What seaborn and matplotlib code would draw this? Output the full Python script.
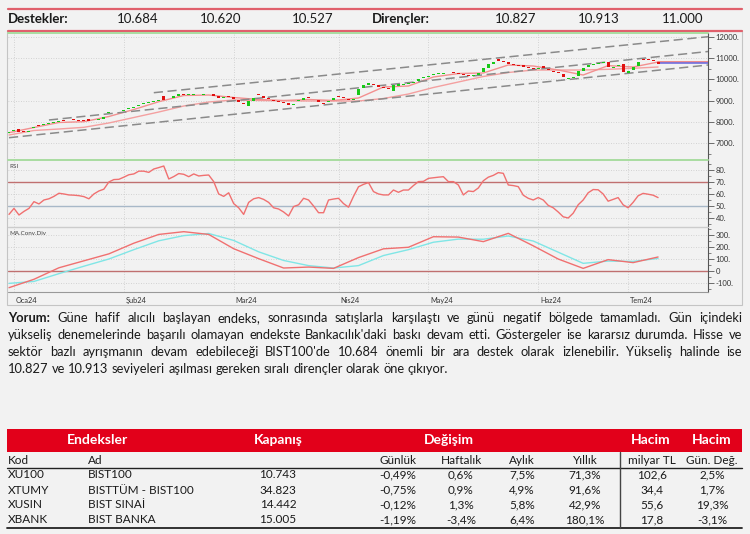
import matplotlib
matplotlib.use('Agg')
import matplotlib.pyplot as plt
import matplotlib.transforms as mtransforms
from matplotlib.lines import Line2D
from matplotlib.patches import Rectangle
from matplotlib.ticker import FuncFormatter, MultipleLocator
import seaborn as sns
import numpy as np
import pandas as pd

'''
Dados lidos do grafico (BIST100 diario, Oca24 - Tem24)
'''

support_levels = ['10.684', '10.620', '10.527']
resistance_levels = ['10.827', '10.913', '11.000']

# candles (indice = dia de negociacao)
close_px = [
    7533, 7613, 7500, 7533, 7580, 7769, 7816, 7882, 7929, 7990,
    8038, 8038, 8052, 8085, 8038, 8038, 8038, 8052, 8132, 8240,
    8450, 8476, 8476, 8556, 8637, 8712, 8792, 8873, 8920, 8967,
    9028, 9020, 9061, 9217, 9297, 9280, 9297, 9300, 9290, 9300,
    9325, 9231, 9137, 9170, 9184, 9061, 8920, 8825, 9000, 9108,
    9264, 9137, 9075, 8981, 8948, 8873, 8792, 8854, 9028, 9137,
    9137, 9184, 8920, 8840, 8981, 9108, 9184, 9108, 9028, 9075,
    9570, 9736, 9816, 9736, 9656, 9580, 9547, 9720, 9760, 9780,
    9816, 9891, 10005, 10099, 10175, 10255, 10288, 10316, 10335, 10288,
    10255, 10208, 10175, 10208, 10288, 10560, 10720, 10835, 10882, 10807,
    10726, 10679, 10646, 10599, 10524, 10476, 10524, 10524, 10443, 10363,
    10288, 10127, 10052, 10127, 10396, 10524, 10679, 10712, 10759, 10807,
    10599, 10599, 10679, 10350, 10420, 10599, 10807, 10915, 10901, 10868,
    10743]
open_px = [
    7480, 7560, 7680, 7560, 7540, 7720, 7860, 7840, 7890, 7950,
    8000, 8070, 8030, 8110, 8070, 8060, 8110, 8030, 8080, 8150,
    8400, 8440, 8450, 8500, 8590, 8660, 8750, 8830, 8880, 8930,
    8990, 9200, 9090, 9110, 9240, 9300, 9270, 9280, 9310, 9280,
    9290, 9300, 9200, 9120, 9220, 9150, 9010, 8900, 8760, 8990,
    9300, 9220, 9120, 9030, 8990, 8920, 8880, 8790, 8990, 9050,
    9190, 9150, 9040, 8900, 8940, 9050, 9230, 9160, 9080, 9020,
    9270, 9600, 9750, 9800, 9720, 9640, 9590, 9440, 9700, 9740,
    9780, 9840, 9930, 10050, 10110, 10190, 10250, 10270, 10370, 10330,
    10290, 10260, 10220, 10180, 10230, 10330, 10560, 10740, 10950, 10880,
    10800, 10720, 10690, 10660, 10580, 10520, 10480, 10620, 10480, 10420,
    10340, 10250, 10000, 10060, 10140, 10420, 10600, 10680, 10720, 10770,
    10800, 10540, 10620, 10720, 10300, 10440, 10650, 10960, 10950, 10920,
    10820]

# medias moveis (a cada 5 dias)
ma_days = list(range(0, 131, 5))
ma_fast = [7486, 7731, 7967, 8005, 8250, 8580, 8948, 9240, 9264, 9146, 9052, 9005, 9052, 9005,
           9123, 9642, 9689, 10113, 10278, 10302, 10680, 10632, 10443, 10207, 10650, 10585, 10820]
ma_slow = [7377, 7590, 7660, 7740, 7944, 8203, 8462, 8745, 8934, 9028, 9005, 8990, 8981, 8981,
           8981, 9099, 9311, 9618, 9877, 10137, 10325, 10443, 10443, 10443, 10476, 10524, 10585]

# canal de tendencia (linhas tracejadas)
channel_days = [[29, 140], [8, 140], [0, 140]]
channel_vals = [[9373, 12014], [8085, 11316], [7250, 10679]]
last_levels = [10806, 10759]

# RSI diario
rsi = [43, 48, 42.5, 45.5, 48, 53.6, 51.7, 55, 56, 58,
       60.6, 60, 59.2, 59, 58.6, 57.8, 56, 60, 62.5, 64,
       70, 72, 72.2, 74, 76, 76.7, 79, 79, 78, 80.8,
       82, 83.3, 72.5, 74.5, 77, 76.4, 74.4, 76.7, 75, 75.5,
       75.8, 70.3, 60, 58, 61, 52, 48.5, 43, 53, 56,
       57, 55.5, 53, 48.5, 47.5, 45, 41.7, 49.5, 51, 56.4,
       55, 50, 44.4, 44.4, 55, 55.8, 56.4, 52, 49, 58,
       66, 68, 69.5, 62, 60, 59.2, 59.2, 63.3, 61.4, 63.3,
       63.3, 67, 70.3, 70.5, 73, 73.5, 74, 74.4, 70.3, 70.3,
       67.5, 59.2, 62.5, 62, 65, 71, 74, 75.5, 77.8, 77.2,
       67.5, 67, 66.1, 59, 56.4, 55, 57, 55, 50.5, 48.5,
       45, 41, 40, 44, 51, 55, 61, 63.7, 63.5, 60,
       54, 55.5, 57, 51, 48.5, 53, 58.5, 60.5, 59.8, 59,
       57]

# MACD e sinal (a cada 5 dias)
macd = [-139, -69, 27, 85, 143, 232, 305, 328, 305, 186, 103, 25, 33, 22,
        112, 185, 198, 286, 283, 245, 314, 210, 100, 22, 95, 70, 117]
macd_signal = [-103, -87, -22, 40, 100, 178, 252, 295, 313, 255, 160, 88, 45, 25,
               45, 129, 178, 240, 266, 265, 292, 250, 157, 64, 83, 80, 105]

month_idx = [1, 23, 45, 66, 84, 106, 124]
month_labels = ['Oca24', 'Şub24', 'Mar24', 'Nis24', 'May24', 'Haz24', 'Tem24']

comment_lines = [
    "Yorum: Güne hafif alıcılı başlayan endeks, sonrasında satışlarla karşılaştı ve günü negatif bölgede tamamladı. Gün içindeki",
    "yükseliş denemelerinde başarılı olamayan endekste Bankacılık'daki baskı devam etti. Göstergeler ise kararsız durumda. Hisse ve",
    "sektör bazlı ayrışmanın devam edebileceği BIST100'de 10.684 önemli bir ara destek olarak izlenebilir. Yükseliş halinde ise",
    "10.827 ve 10.913 seviyeleri aşılması gereken sıralı dirençler olarak öne çıkıyor.",
]

# tabela
tbl_code = ['XU100', 'XTUMY', 'XUSIN', 'XBANK']
tbl_name = ['BIST100', 'BISTTÜM - BIST100', 'BIST SINAİ', 'BIST BANKA']
tbl_close = ['10.743', '34.823', '14.442', '15.005']
tbl_daily = ['-0,49%', '-0,75%', '-0,12%', '-1,19%']
tbl_weekly = ['0,6%', '0,9%', '1,3%', '-3,4%']
tbl_monthly = ['7,5%', '4,9%', '5,8%', '6,4%']
tbl_yearly = ['71,3%', '91,6%', '42,9%', '180,1%']
tbl_volume = ['102,6', '34,4', '55,6', '17,8']
tbl_vol_chg = ['2,5%', '1,7%', '19,3%', '-3,1%']

'''
Figura
'''
W, H = 750, 534
BG = '#f2f2f2'
RED_LINE = '#e0606c'
sns.set_style('white', {'axes.facecolor': BG, 'figure.facecolor': BG})
plt.rcParams['font.family'] = ['Lato', 'DejaVu Sans']

fig = plt.figure(figsize=(W / 100, H / 100), dpi=100)
fig.patch.set_facecolor(BG)


def fx(x):
    return x / W


def fy(y):
    return 1 - y / H


def hline(x0, x1, y, color, lw):
    fig.add_artist(Line2D([fx(x0), fx(x1)], [fy(y), fy(y)], color=color, lw=lw,
                          transform=fig.transFigure))


def vline(x, y0, y1, color, lw):
    fig.add_artist(Line2D([fx(x), fx(x)], [fy(y0), fy(y1)], color=color, lw=lw,
                          transform=fig.transFigure))


# cabecalho suporte / resistencia
hline(8, 742, 8.5, RED_LINE, 1.6)
hline(8, 742, 30.5, RED_LINE, 1.6)
fig.text(fx(8), fy(19), 'Destekler:', fontsize=9.5, fontweight='bold', va='center', color='#1a1a1a')
for xpos, lev in zip([117, 200, 292], support_levels):
    fig.text(fx(xpos), fy(19), lev, fontsize=9.5, va='center', color='#1a1a1a')
fig.text(fx(372), fy(19), 'Dirençler:', fontsize=9.5, fontweight='bold', va='center', color='#1a1a1a')
for xpos, lev in zip([495, 578, 662], resistance_levels):
    fig.text(fx(xpos), fy(19), lev, fontsize=9.5, va='center', color='#1a1a1a')

# paineis
ax_p = fig.add_axes([fx(8), fy(160), 700 / W, 127 / H])
ax_r = fig.add_axes([fx(8), fy(227), 700 / W, 67 / H])
ax_m = fig.add_axes([fx(8), fy(292), 700 / W, 65 / H])


def setup_panel(ax, ylim, yticks, minor, fmt):
    ax.set_xlim(-0.2, 140)
    ax.set_ylim(*ylim)
    ax.set_facecolor(BG)
    for s in ['top', 'left', 'bottom']:
        ax.spines[s].set_visible(False)
    ax.spines['right'].set_color('#555555')
    ax.spines['right'].set_linewidth(0.8)
    ax.yaxis.tick_right()
    ax.set_yticks(yticks)
    ax.yaxis.set_minor_locator(MultipleLocator(minor))
    ax.yaxis.set_major_formatter(FuncFormatter(fmt))
    ax.tick_params(axis='y', which='major', direction='out', length=4, width=0.6,
                   colors='#555555', labelsize=5.5, pad=1.5, labelcolor='#333333')
    ax.tick_params(axis='y', which='minor', direction='out', length=2, width=0.5, colors='#555555')
    ax.set_xticks(month_idx)
    ax.tick_params(axis='x', length=0, labelbottom=False)
    ax.grid(True, which='major', color='#c8c8c8', linestyle=(0, (1, 2)), linewidth=0.6)
    ax.set_axisbelow(True)


def dotted(v, pos):
    return '0' if v == 0 else f'{int(v)}.'


setup_panel(ax_p, (6198, 12189), range(7000, 12001, 1000), 500, dotted)
setup_panel(ax_r, (32.5, 88.3), [40, 50, 60, 70, 80], 5, dotted)
setup_panel(ax_m, (-175, 367), [-100, 0, 100, 200, 300], 50, dotted)

# candles
days = np.arange(len(close_px))
o = np.array(open_px)
c = np.array(close_px)
body_low = np.minimum(o, c)
body_h = np.maximum(np.abs(c - o), 30)
colors = np.where(c >= o, '#18c818', '#e01010')
ax_p.bar(days, body_h, bottom=body_low, width=0.6, color=colors, linewidth=0, zorder=3)

sns.lineplot(x=ma_days, y=ma_slow, ax=ax_p, color='#f4a0a0', lw=1.0, zorder=2)
sns.lineplot(x=ma_days, y=ma_fast, ax=ax_p, color='#f29090', lw=1.0, zorder=2)
for dx, vals in zip(channel_days, channel_vals):
    ax_p.plot(dx, vals, color='#8a8a8a', lw=1.1, dashes=(6, 3), zorder=2)
ax_p.plot([days[-1], 140], [last_levels[0]] * 2, color='#f07878', lw=1.2, zorder=2)
ax_p.plot([days[-1], 140], [last_levels[1]] * 2, color='#7070e0', lw=1.2, zorder=2)

# RSI
ax_r.axhline(70, color='#c07070', lw=1.0, zorder=1)
ax_r.axhline(50, color='#a8b8c8', lw=1.0, zorder=1)
sns.lineplot(x=days, y=rsi, ax=ax_r, color='#f07070', lw=1.0, zorder=3)
ax_r.text(0.002, 0.9, 'RSI', transform=ax_r.transAxes, fontsize=4.5, color='#444444', va='center')

# MACD
ax_m.axhline(0, color='#c07070', lw=1.0, zorder=1)
sns.lineplot(x=ma_days, y=macd_signal, ax=ax_m, color='#80e6e6', lw=1.0, zorder=3)
sns.lineplot(x=ma_days, y=macd, ax=ax_m, color='#f07070', lw=1.0, zorder=4)
ax_m.text(0.002, 0.9, 'MA.Conv.Div', transform=ax_m.transAxes, fontsize=4.5, color='#444444', va='center')

for ax in (ax_p, ax_r, ax_m):
    ax.set_xlabel('')
    ax.set_ylabel('')

# eixo de meses
ax_m.tick_params(axis='x', direction='out', length=8, width=0.6, colors='#666666')
blend = mtransforms.blended_transform_factory(ax_m.transData, ax_m.transAxes)
for m, lab in zip(month_idx, month_labels):
    ax_m.text(m + 0.4, -0.125, lab, transform=blend, fontsize=5.3, color='#333333',
              ha='left', va='center')

# separadores do grafico
hline(8, 708, 33, '#a8dca0', 1.4)
hline(8, 708, 160, '#a8dca0', 1.4)
hline(8, 708, 227, '#cccccc', 1.0)
hline(8, 708, 292, '#999999', 0.8)
fig.add_artist(Rectangle((fx(7), fy(305)), 735 / W, 274 / H, fill=False, edgecolor='#c4c4c4',
                         lw=0.8, transform=fig.transFigure))

'''
Comentario justificado
'''
renderer = fig.canvas.get_renderer()


def text_w(s, size, weight):
    t = fig.text(0, 0, s, fontsize=size, fontweight=weight)
    w = t.get_window_extent(renderer=renderer).width
    t.remove()
    return w


tokens = []
for li, line in enumerate(comment_lines):
    words = line.split(' ')
    tokens.append([(w, 'bold' if (li == 0 and k == 0) else 'normal') for k, w in enumerate(words)])

left, right = 8, 742
para_size = 10.5
while True:
    widths = [[text_w(w, para_size, wt) for w, wt in line] for line in tokens]
    space_w = text_w('a a', para_size, 'normal') - text_w('aa', para_size, 'normal')
    natural = max(sum(ws) + space_w * (len(ws) - 1) for ws in widths)
    if natural <= 726 or para_size < 7:
        break
    para_size -= 0.25

line_y = [318, 335, 352, 369]
for li, (line, ws) in enumerate(zip(tokens, widths)):
    if li < len(tokens) - 1:
        gap = (right - left - sum(ws)) / (len(ws) - 1)
    else:
        gap = space_w
    x = left
    for (w, wt), wd in zip(line, ws):
        fig.text(fx(x), fy(line_y[li]), w, fontsize=para_size, fontweight=wt, va='center',
                 ha='left', color='#1a1a1a')
        x += wd + gap

'''
Tabela
'''
fig.add_artist(Rectangle((fx(7), fy(452)), 735 / W, 23.5 / H, facecolor='#e2001a',
                         edgecolor='none', transform=fig.transFigure))
for xc, lab in zip([97, 278, 449, 651, 712], ['Endeksler', 'Kapanış', 'Değişim', 'Hacim', 'Hacim']):
    fig.text(fx(xc), fy(440), lab, fontsize=10, fontweight='bold', color='white', ha='center', va='center')

fig.text(fx(8), fy(460), 'Kod', fontsize=8.5, va='center', color='#1a1a1a')
fig.text(fx(88), fy(460), 'Ad', fontsize=8.5, va='center', color='#1a1a1a')
sub_x = [398, 461, 522, 585, 652, 712]
for xc, lab in zip(sub_x, ['Günlük', 'Haftalık', 'Aylık', 'Yıllık', 'milyar TL', 'Gün. Değ.']):
    fig.text(fx(xc), fy(460), lab, fontsize=8.5, ha='center', va='center', color='#1a1a1a')
hline(7, 742, 467.7, '#222222', 1.0)
hline(7, 742, 528, '#222222', 1.3)
vline(620, 452, 528, '#444444', 1.0)

row_y = [475, 490, 505, 519.5]
for r in range(len(tbl_code)):
    y = fy(row_y[r])
    fig.text(fx(8), y, tbl_code[r], fontsize=8.5, va='center', color='#1a1a1a')
    fig.text(fx(88), y, tbl_name[r], fontsize=8.5, va='center', color='#1a1a1a')
    fig.text(fx(278), y, tbl_close[r], fontsize=8.5, ha='center', va='center', color='#1a1a1a')
    vals = [tbl_daily[r], tbl_weekly[r], tbl_monthly[r], tbl_yearly[r], tbl_volume[r], tbl_vol_chg[r]]
    for xc, v in zip(sub_x, vals):
        fig.text(fx(xc), y, v, fontsize=8.5, ha='center', va='center', color='#1a1a1a')

fig.savefig('out.png', dpi=100, facecolor=BG)
